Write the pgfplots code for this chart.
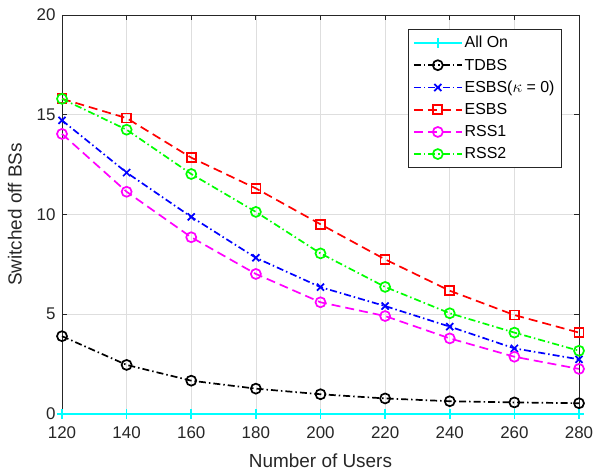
\documentclass[border=0pt]{standalone}
\usepackage{fontspec}
\setmainfont{Liberation Sans}
\usepackage{pgfplots}
\pgfplotsset{compat=1.18}

\definecolor{gridc}{gray}{0.87}
\definecolor{axc}{gray}{0.15}
\definecolor{mcyan}{rgb}{0,1,1}
\definecolor{mmag}{rgb}{1,0,1}
\definecolor{mgreen}{rgb}{0,1,0}
\definecolor{mblue}{rgb}{0,0,1}
\definecolor{mred}{rgb}{1,0,0}

\tikzset{
  mdash/.style={dash pattern=on 9bp off 5bp},
  mdashdot/.style={dash pattern=on 7bp off 3bp on 1.5bp off 3bp},
}

\begin{document}
\begin{tikzpicture}
\begin{axis}[
  width=517bp, height=399bp, scale only axis,
  xmin=120, xmax=280, ymin=0, ymax=20,
  xtick={120,140,...,280}, ytick={0,5,...,20},
  grid=major, major grid style={gridc, line width=0.6bp},
  axis line style={axc, line width=0.8bp},
  tick style={axc, line width=0.8bp}, tick align=inside, major tick length=5bp,
  ticklabel style={font=\fontsize{17}{19}\selectfont, text=axc},
  xticklabel style={yshift=-9bp},
  yticklabel style={xshift=-3bp},
  /pgf/number format/assume math mode=true,
  xlabel={Number of Users}, ylabel={Switched off BSs},
  label style={font=\fontsize{19}{21}\selectfont, text=axc},
  xlabel style={anchor=center, at={(axis description cs:0.5,-0.118)}},
  ylabel style={anchor=center, at={(axis description cs:-0.091,0.5)}},
  clip=false,
  every axis plot/.append style={line width=1.7bp, mark options={solid, line width=1.7bp}},
  legend cell align=left,
  legend style={at={(0.967,0.965)}, anchor=north east, draw=axc, line width=0.8bp,
    font=\fontsize{16}{18}\selectfont, row sep=5.5bp, inner xsep=5bp, inner ysep=5bp},
  legend image code/.code={\draw[mark repeat=2, mark phase=2]
    plot coordinates {(0bp,0bp) (24bp,0bp) (48bp,0bp)};},
]
\addplot[mcyan, mark=+, mark size=5bp] coordinates {
 (120,0) (140,0) (160,0) (180,0) (200,0) (220,0) (240,0) (260,0) (280,0)};
\addplot[black, mdashdot, mark=o, mark size=5bp] coordinates {
 (120,3.9) (140,2.46) (160,1.67) (180,1.27) (200,0.99) (220,0.78) (240,0.64) (260,0.58) (280,0.54)};
\addplot[mblue, mdashdot, mark=x, mark size=5bp] coordinates {
 (120,14.72) (140,12.1) (160,9.88) (180,7.83) (200,6.36) (220,5.41) (240,4.38) (260,3.29) (280,2.74)};
\addplot[mred, mdash, mark=square, mark size=4.5bp] coordinates {
 (120,15.8) (140,14.83) (160,12.85) (180,11.31) (200,9.51) (220,7.75) (240,6.18) (260,4.96) (280,4.08)};
\addplot[mmag, mdash, mark=o, mark size=5bp] coordinates {
 (120,14.04) (140,11.14) (160,8.86) (180,7.02) (200,5.6) (220,4.91) (240,3.79) (260,2.87) (280,2.26)};
\addplot[mgreen, mdashdot, mark=o, mark size=5bp] coordinates {
 (120,15.8) (140,14.25) (160,12.03) (180,10.13) (200,8.05) (220,6.37) (240,5.05) (260,4.08) (280,3.17)};
\legend{All On, TDBS, ESBS(\(\kappa\) = 0), ESBS, RSS1, RSS2}
\end{axis}
\pgfresetboundingbox
\path[use as bounding box] ([xshift=-62bp,yshift=-60bp]current axis.south west)
  rectangle ([xshift=16bp,yshift=15bp]current axis.north east);
\end{tikzpicture}
\end{document}
